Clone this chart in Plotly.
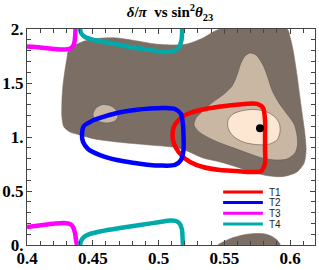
import plotly.graph_objects as go

# ---- contour regions (sin^2 theta23, delta/pi) ----
dark_x = [0.4312, 0.4357, 0.4426, 0.4532, 0.4684, 0.4837, 0.4973, 0.5125, 0.5217, 0.5338, 0.5430, 0.5468,
          0.5977, 0.6000, 0.6023, 0.6053, 0.6076, 0.6099, 0.6114, 0.6122, 0.6107, 0.6053, 0.5947, 0.5848,
          0.5734, 0.5597, 0.5468, 0.5338, 0.5217, 0.5125, 0.4935, 0.4684, 0.4517, 0.4403, 0.4327, 0.4281,
          0.4266, 0.4266, 0.4274, 0.4289, 0.4304]
dark_y = [1.787, 1.843, 1.884, 1.912, 1.917, 1.889, 1.861, 1.852, 1.861, 1.917, 1.981, 2.0,
          2.0, 1.926, 1.806, 1.574, 1.361, 1.157, 1.019, 0.880, 0.759, 0.676, 0.634, 0.639,
          0.667, 0.722, 0.769, 0.806, 0.870, 0.903, 0.926, 0.954, 0.981, 1.019, 1.046, 1.093,
          1.176, 1.343, 1.481, 1.620, 1.731]
dark_low_x = [0.5453, 0.5498, 0.5559, 0.5643, 0.5734, 0.5810, 0.5863, 0.5901, 0.5924]
dark_low_y = [0.0, 0.032, 0.065, 0.093, 0.106, 0.102, 0.079, 0.046, 0.0]
mid_x = [0.5696, 0.5742, 0.5772, 0.5802, 0.5833, 0.5863, 0.5916, 0.5977, 0.6031, 0.6053, 0.6057, 0.6038,
         0.5977, 0.5886, 0.5787, 0.5696, 0.5582, 0.5468, 0.5369, 0.5300, 0.5270, 0.5285, 0.5338, 0.5414,
         0.5498, 0.5559, 0.5597, 0.5627, 0.5658]
mid_y = [1.778, 1.759, 1.713, 1.648, 1.546, 1.435, 1.315, 1.213, 1.120, 1.019, 0.926, 0.852,
         0.796, 0.787, 0.806, 0.843, 0.894, 0.944, 1.0, 1.056, 1.111, 1.176, 1.241, 1.324,
         1.398, 1.472, 1.574, 1.685, 1.750]
light_x = [0.5529, 0.5567, 0.5643, 0.5734, 0.5825, 0.5886, 0.5920, 0.5924, 0.5901, 0.5833, 0.5734, 0.5643,
           0.5567, 0.5529]
light_y = [1.157, 1.213, 1.245, 1.255, 1.231, 1.185, 1.120, 1.046, 0.972, 0.931, 0.931, 0.954,
           1.009, 1.083]
blob_x = [0.4502, 0.4525, 0.4578, 0.4639, 0.4677, 0.4692, 0.4669, 0.4608, 0.4548, 0.4510]
blob_y = [1.213, 1.269, 1.301, 1.287, 1.250, 1.194, 1.148, 1.130, 1.144, 1.176]

# ---- model curves ----
t1_x = [0.5749, 0.5795, 0.581, 0.581, 0.581, 0.581, 0.578, 0.5696, 0.5597, 0.5468, 0.5338, 0.5240,
        0.5179, 0.5133, 0.5110, 0.5110, 0.5133, 0.5179, 0.5240, 0.5354, 0.5506, 0.5658]
t1_y = [1.306, 1.269, 1.157, 1.019, 0.880, 0.759, 0.685, 0.676, 0.685, 0.694, 0.722, 0.769,
        0.824, 0.898, 0.972, 1.065, 1.130, 1.185, 1.222, 1.259, 1.287, 1.306]
t2_x = [0.4418, 0.4433, 0.4494, 0.4555, 0.4684, 0.4821, 0.4935, 0.5049, 0.5125, 0.5171, 0.5186, 0.5190,
        0.5190, 0.5171, 0.5125, 0.5011, 0.4935, 0.4821, 0.4684, 0.4555, 0.4464, 0.4426]
t2_y = [1.019, 1.102, 1.148, 1.176, 1.222, 1.250, 1.264, 1.269, 1.259, 1.213, 1.111, 1.019,
        0.880, 0.787, 0.741, 0.736, 0.741, 0.759, 0.787, 0.833, 0.889, 0.954]
t3_top_x = [0.4, 0.4099, 0.4213, 0.4289, 0.4335, 0.4357, 0.4365, 0.4369]
t3_top_y = [1.838, 1.829, 1.815, 1.810, 1.824, 1.861, 1.917, 2.0]
t3_bot_x = [0.4, 0.4122, 0.4213, 0.4281, 0.4327, 0.4350, 0.4365, 0.4373, 0.4380]
t3_bot_y = [0.167, 0.185, 0.199, 0.204, 0.194, 0.167, 0.111, 0.046, 0.0]
t4_top_x = [0.4403, 0.4411, 0.4441, 0.4494, 0.4631, 0.4783, 0.4935, 0.5049, 0.5118, 0.5156, 0.5175, 0.5179, 0.5179]
t4_top_y = [2.0, 1.963, 1.926, 1.903, 1.870, 1.833, 1.806, 1.787, 1.796, 1.833, 1.898, 1.963, 2.0]
t4_bot_x = [0.4403, 0.4411, 0.4433, 0.4479, 0.4555, 0.4707, 0.4859, 0.5011, 0.5087, 0.5133, 0.5163, 0.5179, 0.5183, 0.5186]
t4_bot_y = [0.0, 0.037, 0.074, 0.102, 0.125, 0.157, 0.185, 0.213, 0.227, 0.222, 0.194, 0.139, 0.065, 0.0]

best_x = [0.5772]
best_y = [1.080]

x_ticks = [0.4, 0.45, 0.5, 0.55, 0.6]
x_labels = ["0.4", "0.45", "0.5", "0.55", "0.6"]
y_ticks = [0, 0.5, 1, 1.5, 2]
y_labels = ["0.", "0.5", "1.", "1.5", "2."]

legend_names = ["T1", "T2", "T3", "T4"]
legend_colors = ["#ff0000", "#0000ff", "#ff00ff", "#00aaaa"]

DARK = "#7b6f65"
MID = "#c9b6a3"
LIGHT = "#fde6d2"
EDGE = "#5e554d"
SERIF = "Liberation Serif"


def closed(xs, ys):
    return list(xs) + [xs[0]], list(ys) + [ys[0]]


fig = go.Figure()


def region(xs, ys, color, edge=True):
    xs, ys = closed(xs, ys)
    fig.add_trace(go.Scatter(x=xs, y=ys, mode="lines", fill="toself", fillcolor=color,
                             line=dict(color=EDGE if edge else color, width=0.6, shape="spline", smoothing=0.8),
                             hoverinfo="skip", showlegend=False))


region(dark_x, dark_y, DARK, edge=False)
region(dark_low_x, dark_low_y, DARK, edge=False)
region(mid_x, mid_y, MID)
region(light_x, light_y, LIGHT)
region(blob_x, blob_y, MID)


def curve(xs, ys, color, close=False):
    if close:
        xs, ys = closed(xs, ys)
    fig.add_trace(go.Scatter(x=xs, y=ys, mode="lines",
                             line=dict(color=color, width=4.5, shape="spline", smoothing=0.8),
                             hoverinfo="skip", showlegend=False))


curve(t1_x, t1_y, legend_colors[0], close=True)
curve(t2_x, t2_y, legend_colors[1], close=True)
curve(t3_top_x, t3_top_y, legend_colors[2])
curve(t3_bot_x, t3_bot_y, legend_colors[2])
curve(t4_top_x, t4_top_y, legend_colors[3])
curve(t4_bot_x, t4_bot_y, legend_colors[3])

fig.add_trace(go.Scatter(x=best_x, y=best_y, mode="markers",
                         marker=dict(color="black", size=8), hoverinfo="skip", showlegend=False))

# manual compact legend
leg_y = [0.245, 0.197, 0.147, 0.097]
shapes = []
annotations = []
for name, col, yy in zip(legend_names, legend_colors, leg_y):
    shapes.append(dict(type="line", xref="paper", yref="paper", x0=0.681, x1=0.819, y0=yy, y1=yy,
                       line=dict(color=col, width=3)))
    annotations.append(dict(xref="paper", yref="paper", x=0.838, y=yy, text=name, showarrow=False,
                            xanchor="left", yanchor="middle", borderpad=0,
                            font=dict(family="Liberation Sans", size=10, color="#222")))

axis_common = dict(showgrid=False, zeroline=False, showline=True, linecolor="#444", linewidth=1,
                   mirror="ticks", ticks="inside", ticklen=5, tickcolor="#444", automargin=False,
                   tickfont=dict(family=SERIF, size=17, color="black", weight="bold"))

fig.update_layout(
    width=319, height=270,
    margin=dict(l=27, r=4, t=29, b=25, autoexpand=False),
    paper_bgcolor="white", plot_bgcolor="white",
    title=dict(text="<i>δ</i>/<i>π</i>  vs sin<sup>2</sup><i>θ</i><sub>23</sub>",
               x=0.533, xanchor="center", y=0.955, yanchor="middle",
               font=dict(family=SERIF, size=15, color="black", weight="bold")),
    xaxis=dict(range=[0.4, 0.619], tickvals=x_ticks, ticktext=x_labels, ticklabelstandoff=-2,
               minor=dict(dtick=0.01, tick0=0.4, ticks="inside", ticklen=4, tickcolor="#444"),
               **axis_common),
    yaxis=dict(range=[0, 2], tickvals=y_ticks, ticktext=y_labels, ticklabelstandoff=-1,
               minor=dict(dtick=0.1, tick0=0, ticks="inside", ticklen=4, tickcolor="#444"),
               **axis_common),
    shapes=shapes, annotations=annotations,
    showlegend=False,
)

fig.write_html("out.html", config={"displayModeBar": False},
               post_script="document.body.style.margin='0';document.body.style.padding='0';"
                           "document.body.style.overflow='hidden';")
